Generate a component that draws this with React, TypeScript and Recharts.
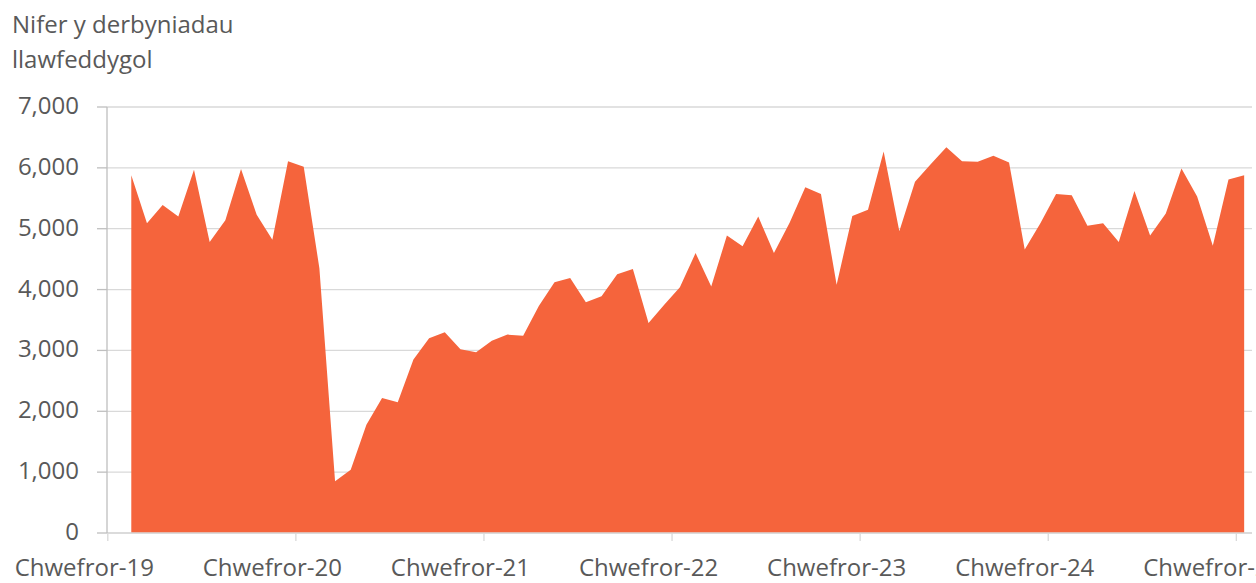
import React from 'react';
import { AreaChart, Area, XAxis, YAxis, CartesianGrid } from 'recharts';

// Monthly counts (first point ~Apr 2019, last ~Mar 2025)
const admissions = [
  5880, 5090, 5390, 5200, 5970, 4780, 5140, 5980, 5230, 4820, 6110, 6020,
  4350, 850, 1040, 1780, 2220, 2150, 2850, 3200, 3300, 3020, 2970, 3160,
  3260, 3240, 3730, 4120, 4190, 3790, 3890, 4250, 4340, 3450, 3750, 4040,
  4600, 4050, 4890, 4710, 5200, 4600, 5100, 5680, 5570, 4080, 5210, 5310,
  6270, 4960, 5770, 6060, 6340, 6110, 6100, 6200, 6090, 4660, 5090, 5570,
  5550, 5050, 5090, 4780, 5620, 4890, 5250, 5990, 5530, 4720, 5810, 5880,
];

const xTickLabels = [
  'Chwefror-19', 'Chwefror-20', 'Chwefror-21', 'Chwefror-22',
  'Chwefror-23', 'Chwefror-24', 'Chwefror-25',
];
// tick positions in month-index units
const xTickPositions = [-1.5, 10.5, 22.5, 34.5, 46.5, 58.5, 70.5];
const yTicks = [0, 1000, 2000, 3000, 4000, 5000, 6000, 7000];
const titleLines = ['Nifer y derbyniadau', 'llawfeddygol'];

const data = admissions.map((v, i) => ({ m: i, v }));

const FONT = '"Open Sans", Lato, sans-serif';
const TEXT = '#595959';
const FS = 24;

const XTick = (props: any) => {
  const { x, y, payload } = props;
  const idx = xTickPositions.indexOf(payload.value);
  return (
    <text x={x - 23.5} y={y} dy={35} textAnchor="middle" fill={TEXT} fontSize={FS} fontFamily={FONT}>
      {xTickLabels[idx]}
    </text>
  );
};

const YTick = (props: any) => {
  const { x, y, payload } = props;
  return (
    <text x={x} y={y} dy={7} textAnchor="end" fill={TEXT} fontSize={FS} fontFamily={FONT}>
      {Number(payload.value).toLocaleString('en-US')}
    </text>
  );
};

export default function App() {
  return (
    <div style={{ position: 'absolute', left: 0, top: 0, width: 1256, height: 583, background: '#fff', overflow: 'hidden' }}>
      <svg width={400} height={90} style={{ position: 'absolute', left: 0, top: 0 }}>
        {titleLines.map((t, i) => (
          <text key={i} x={12} y={33 + i * 35} fill={TEXT} fontSize={FS} fontFamily={FONT}>
            {t}
          </text>
        ))}
      </svg>
      <AreaChart
        width={1256}
        height={583}
        data={data}
        margin={{ top: 107, right: 4, bottom: 0, left: 0 }}
      >
        <CartesianGrid vertical={false} stroke="#d9d9d9" strokeWidth={1.3} />
        <XAxis
          dataKey="m"
          type="number"
          domain={[-1.55, 71.5]}
          ticks={xTickPositions}
          interval={0}
          allowDataOverflow
          height={50}
          tickSize={8}
          tickMargin={0}
          axisLine={{ stroke: '#d9d9d9', strokeWidth: 1.3 }}
          tickLine={{ stroke: '#d9d9d9', strokeWidth: 1.3 }}
          tick={<XTick />}
        />
        <YAxis
          type="number"
          domain={[0, 7000]}
          ticks={yTicks}
          interval={0}
          width={107}
          tickSize={10}
          tickMargin={18}
          axisLine={{ stroke: '#bfbfbf', strokeWidth: 1.3 }}
          tickLine={{ stroke: '#bfbfbf', strokeWidth: 1.3 }}
          tick={<YTick />}
        />
        <Area
          type="linear"
          dataKey="v"
          stroke="none"
          fill="#F5643C"
          fillOpacity={1}
          isAnimationActive={false}
        />
      </AreaChart>
    </div>
  );
}
